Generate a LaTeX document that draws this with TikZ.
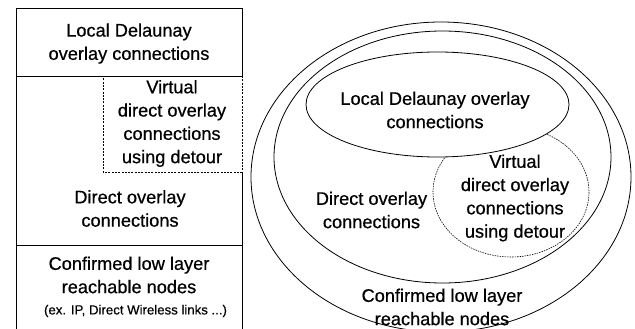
\documentclass[tikz,border=0pt]{standalone}
\usepackage{fontspec}
\setmainfont[FakeBold=0.6]{Liberation Sans}
\begin{document}
\begin{tikzpicture}[x=1pt,y=-1pt,line width=0.8pt,
  lbl/.style={align=center,inner sep=0pt,font=\fontsize{18.2}{23.3}\selectfont},
  note/.style={align=center,inner sep=0pt,font=\fontsize{13.2}{16}\selectfont},
  dashbox/.style={dash pattern=on 2pt off 1.3pt,line width=1pt},
  dashring/.style={dash pattern=on 1.5pt off 1pt,line width=0.6pt}]
\useasboundingbox (0,0) rectangle (635,329);

% ---- layered column ----
\draw (16.5,329) -- (16.5,8) -- (242,8) -- (242,76);
\draw (242,172) -- (242,329);
\draw (16.5,76) -- (242,76);
\draw (16.5,245) -- (242,245);
\draw[dashbox] (242,76) -- (242,172) -- (103,172) -- (103,76);

\node[lbl] (ldL) at (129,43.5) {Local Delaunay\\overlay connections};
\node[lbl] (vdL) at (172,123.5) {Virtual\\direct overlay\\connections\\using detour};
\node[lbl] (doL) at (130,208.5) {Direct overlay\\connections};
\node[lbl] (crL) at (129,275) {Confirmed low layer\\reachable nodes};
\node[note] (exL) at (135.5,311) {(ex. IP, Direct Wireless links ...)};

% ---- nested sets ----
\draw (441,177) ellipse [x radius=190,y radius=155];
\draw (442.5,157) ellipse [x radius=168.5,y radius=126];
\draw[dashring] (511,192) ellipse [x radius=78,y radius=65];
\draw[fill=white] (437.5,104.5) ellipse [x radius=131.5,y radius=52.5];

\node[lbl] (ldR) at (435,110) {Local Delaunay overlay\\connections};
\node[lbl] (vdR) at (515,198) {Virtual\\direct overlay\\connections\\using detour};
\node[lbl] (doR) at (371.5,210) {Direct overlay\\connections};
\node[lbl] (crR) at (442,307) {Confirmed low layer\\reachable nodes};
\end{tikzpicture}
\end{document}
